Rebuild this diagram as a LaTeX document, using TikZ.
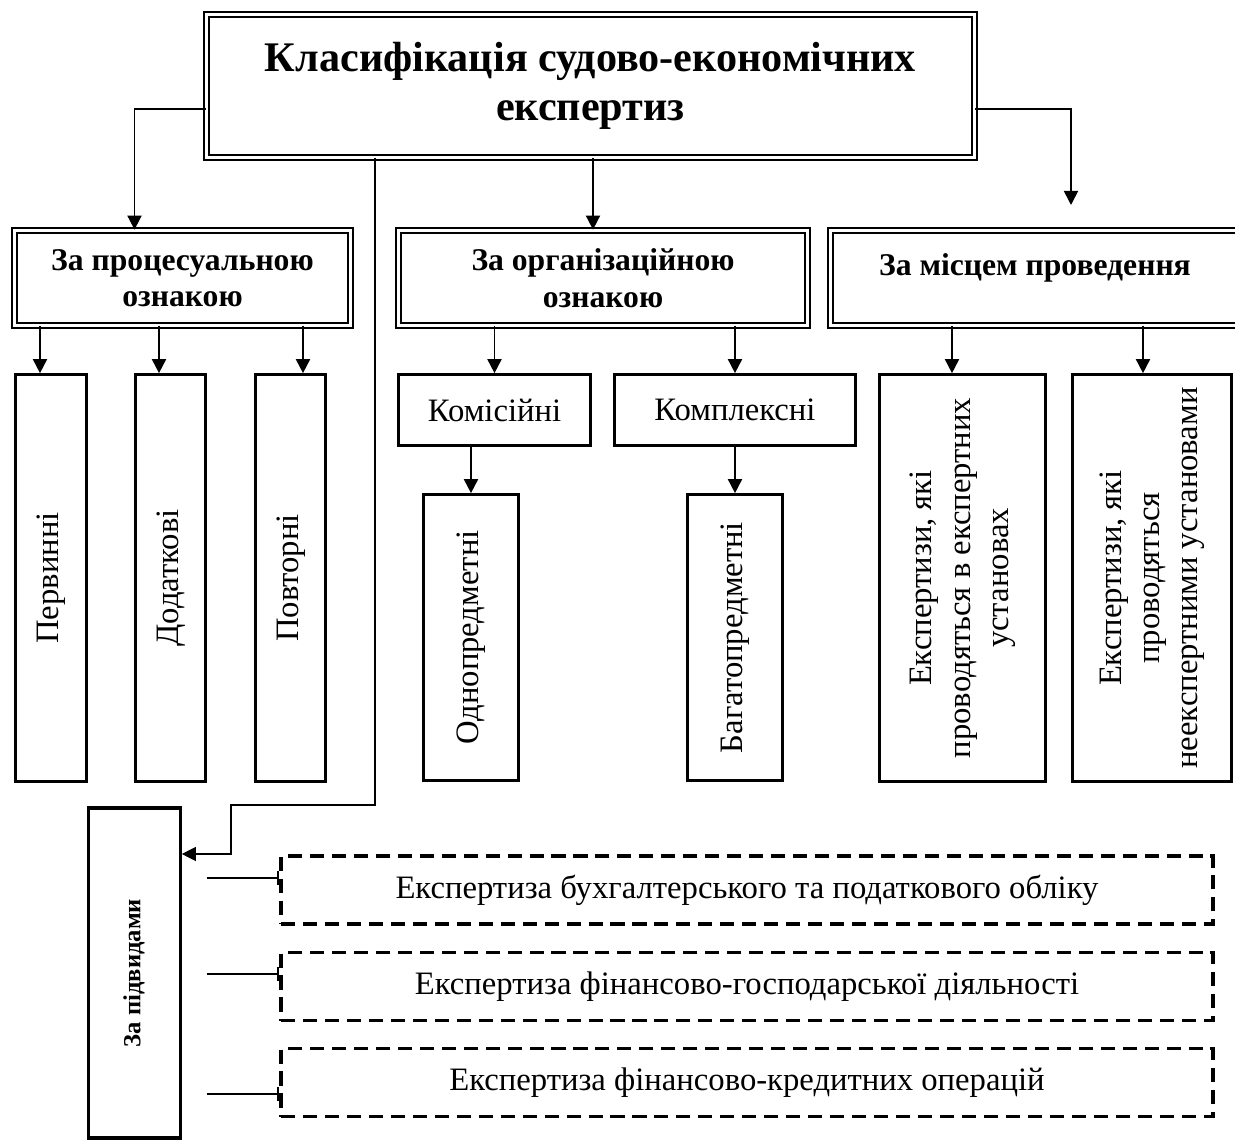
\documentclass[tikz,border=0pt]{standalone}
\usepackage{fontspec}
\setmainfont{Liberation Serif}
\usetikzlibrary{arrows.meta, calc}

% rotated multi-line text for the tall boxes
\newcommand{\vtext}[1]{\rotatebox{90}{\begin{tabular}{@{}c@{}}#1\end{tabular}}}

\begin{document}
\begin{tikzpicture}[
    head/.style={draw, double, line width=1pt, double distance=2pt, inner sep=0pt,
        align=center, font=\bfseries\fontsize{18}{20.7}\selectfont},
    leaf/.style={draw, line width=1.8pt, inner sep=0pt, align=center,
        font=\fontsize{18.6}{21.8}\selectfont},
    sub/.style={draw, line width=2.2pt, dash pattern=on 8pt off 4.5pt, inner sep=0pt,
        minimum width=18.64cm, minimum height=1.36cm, font=\fontsize{18.6}{21.8}\selectfont},
    arr/.style={-{Triangle[length=8pt,width=8pt]}, line width=1pt},
    tick/.style={-{Bar[width=8pt]}, line width=1pt}
]
    \clip (0,0) rectangle (24.7,-22.84);

    % Main box
    \node[head, minimum width=15.36cm, minimum height=2.86cm,
        font=\bfseries\fontsize{24}{28}\selectfont] (title) at (11.81,-1.72)
        {Класифікація судово-економічних\\експертиз};

    % Second level
    \node[head, minimum width=6.72cm, minimum height=1.9cm] (proc) at (3.65,-5.56)
        {За процесуальною\\ознакою};
    \node[head, minimum width=8.18cm, minimum height=1.9cm] (org) at (12.06,-5.56)
        {За організаційною\\ознакою};
    \node[head, minimum width=8.18cm, minimum height=1.9cm, text depth=0.55cm] (place) at (20.70,-5.56)
        {За місцем проведення};

    % By procedure
    \node[leaf, minimum width=1.41cm, minimum height=8.13cm] (prim) at (1.02,-11.56) {\vtext{Первинні}};
    \node[leaf, minimum width=1.40cm, minimum height=8.13cm] (addit) at (3.41,-11.56) {\vtext{Додаткові}};
    \node[leaf, minimum width=1.40cm, minimum height=8.13cm] (rep) at (5.81,-11.56) {\vtext{Повторні}};

    % By organisation
    \node[leaf, minimum width=3.83cm, minimum height=1.41cm] (kom) at (9.89,-8.20) {Комісійні};
    \node[leaf, minimum width=4.81cm, minimum height=1.41cm] (kompl) at (14.70,-8.20) {Комплексні};
    \node[leaf, minimum width=1.89cm, minimum height=5.71cm] (odno) at (9.42,-12.75) {\vtext{Однопредметні}};
    \node[leaf, minimum width=1.89cm, minimum height=5.71cm] (bagato) at (14.70,-12.75) {\vtext{Багатопредметні}};

    % By place
    \node[leaf, minimum width=3.31cm, minimum height=8.13cm] (inst) at (19.25,-11.56)
        {\vtext{Експертизи, які\\проводяться в експертних\\установах}};
    \node[leaf, minimum width=3.17cm, minimum height=8.13cm] (noninst) at (23.04,-11.56)
        {\vtext{Експертизи, які\\проводяться\\неекспертними установами}};

    % By subtypes
    \node[leaf, minimum width=1.83cm, minimum height=6.6cm,
        font=\bfseries\fontsize{14}{17}\selectfont] (pidv) at (2.69,-19.46) {\vtext{За підвидами}};
    \node[sub] (d1) at (14.94,-17.80) {Експертиза бухгалтерського та податкового обліку};
    \node[sub] (d2) at (14.94,-19.73) {Експертиза фінансово-господарської діяльності};
    \node[sub] (d3) at (14.94,-21.65) {Експертиза фінансово-кредитних операцій};

    \coordinate (placein) at (21.42,-4.10);
    \coordinate (bend) at (4.62,-16.10);

    % Arrows from the main box
    \draw[arr] ([yshift=-0.46cm]title.west) -| ([xshift=-0.96cm]proc.north);
    \draw[arr] ([xshift=0.05cm]title.south) -- ([xshift=0.05cm]title.south |- org.north);
    \draw[arr] ([yshift=-0.46cm]title.east) -| (placein);
    \draw[arr, line width=0.7pt] ([xshift=-4.31cm]title.south) |- (bend) |- ([yshift=2.38cm]pidv.east);

    % Arrows of the second level
    \draw[arr] ([xshift=-0.22cm]prim.north |- proc.south) -- ([xshift=-0.22cm]prim.north);
    \draw[arr] ([xshift=-0.23cm]addit.north |- proc.south) -- ([xshift=-0.23cm]addit.north);
    \draw[arr] ([xshift=0.25cm]rep.north |- proc.south) -- ([xshift=0.25cm]rep.north);
    \draw[arr] (kom.north |- org.south) -- (kom.north);
    \draw[arr] (kompl.north |- org.south) -- (kompl.north);
    \draw[arr] (odno.north |- kom.south) -- (odno.north);
    \draw[arr] (bagato.north |- kompl.south) -- (bagato.north);
    \draw[arr] ([xshift=-0.21cm]inst.north |- place.south) -- ([xshift=-0.21cm]inst.north);
    \draw[arr] ([xshift=-0.18cm]noninst.north |- place.south) -- ([xshift=-0.18cm]noninst.north);

    % Subtypes
    \draw[tick] ($(pidv.east |- d1.west)+(0.5,0.24)$) -- ([yshift=0.24cm]d1.west);
    \draw[tick] ($(pidv.east |- d2.west)+(0.5,0.25)$) -- ([yshift=0.25cm]d2.west);
    \draw[tick] ($(pidv.east |- d3.west)+(0.5,-0.23)$) -- ([yshift=-0.23cm]d3.west);
\end{tikzpicture}
\end{document}
